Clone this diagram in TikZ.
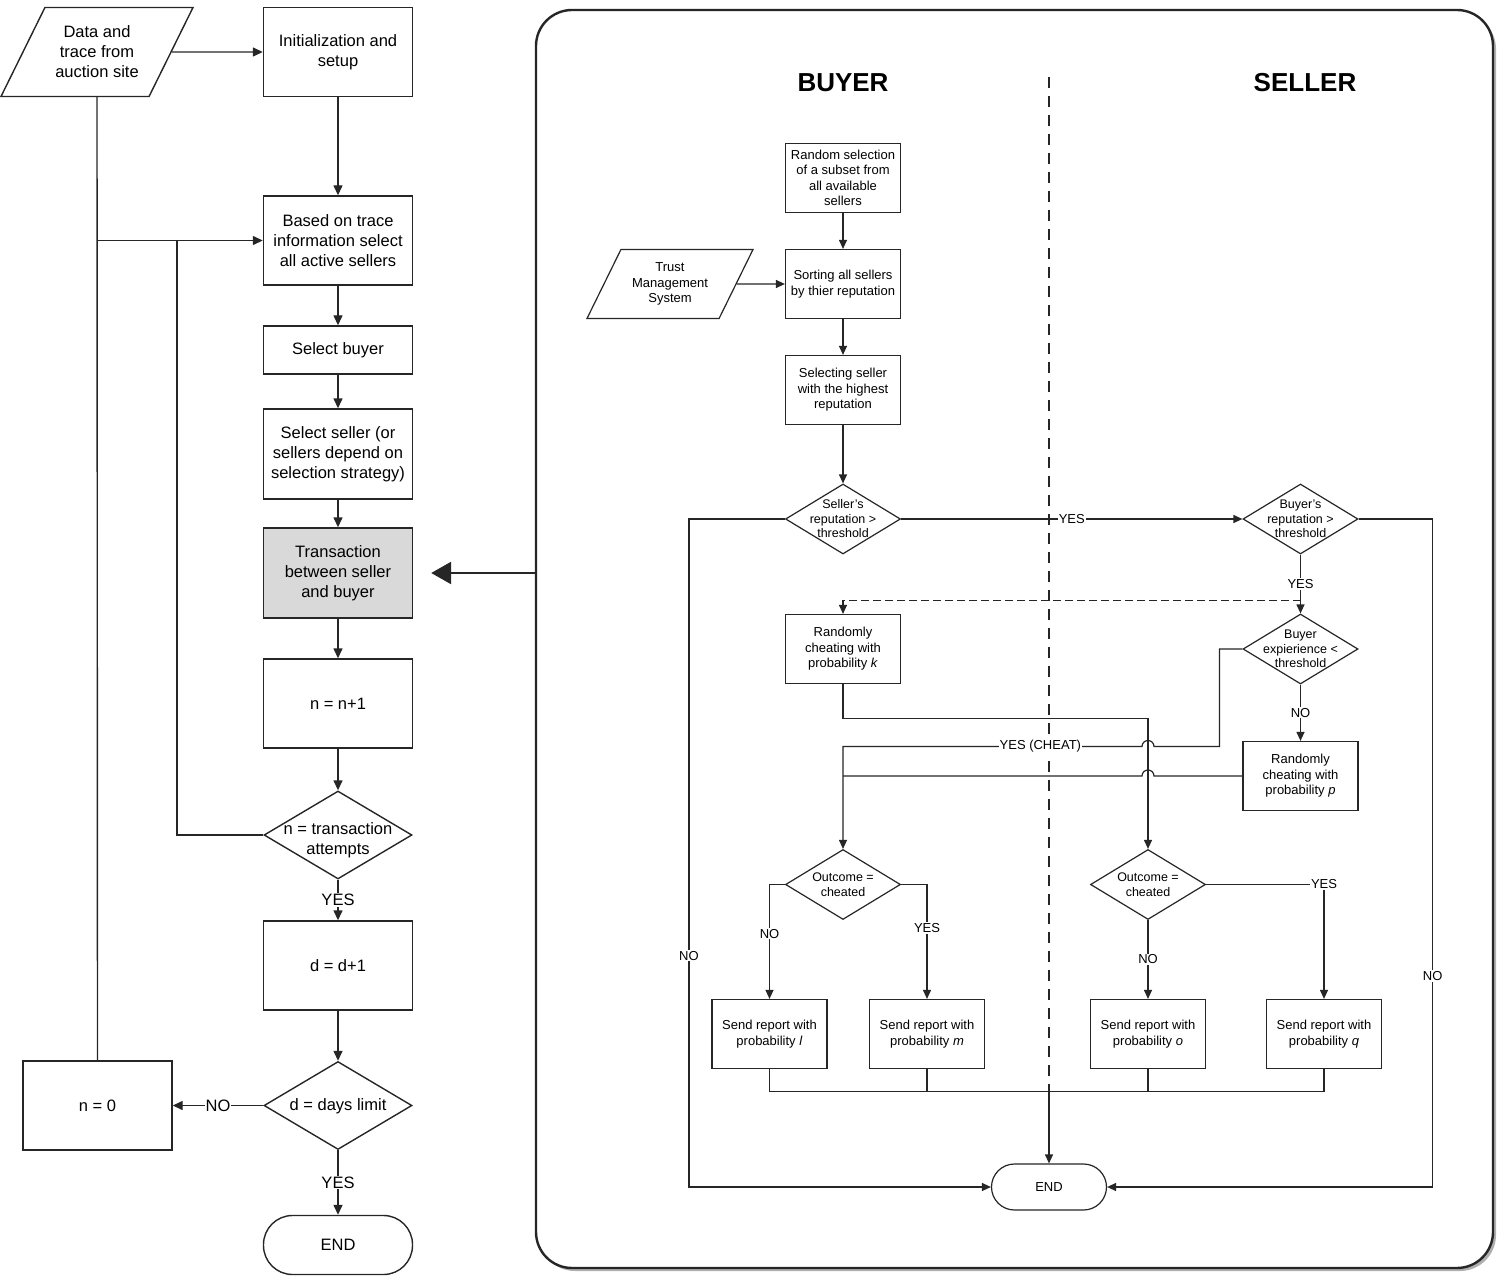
\documentclass[tikz,border=0pt]{standalone}
\usepackage{fontspec}
\setmainfont{Liberation Sans}
\usepackage{tikz}
\usetikzlibrary{arrows.meta,positioning,calc,shapes.geometric,shadows}
\definecolor{flowline}{RGB}{38,38,38}
\definecolor{transbg}{RGB}{217,217,217}
\definecolor{shadowgray}{RGB}{175,175,175}
\newcommand{\leftfont}{\fontsize{16.5}{20}\selectfont}
\newcommand{\panelfont}{\fontsize{13}{15.5}\selectfont}
\newcommand{\diamfont}{\fontsize{12.5}{14.5}\selectfont}
\newcommand{\titlefont}{\fontsize{26}{30}\selectfont\bfseries}
\tikzset{
  box/.style={draw=flowline, line width=1.4pt, align=center, inner sep=2pt,
    minimum width=149pt, minimum height=89pt, font=\leftfont},
  pbox/.style={draw=flowline, line width=1.2pt, align=center, inner sep=2pt,
    minimum width=115pt, minimum height=69pt, font=\panelfont},
  iobox/.style={trapezium, trapezium left angle=63.7, trapezium right angle=116.3,
    trapezium stretches body, draw=flowline, line width=1.4pt, align=center,
    inner xsep=2pt},
  decision/.style={diamond, draw=flowline, line width=1.4pt, inner sep=0pt,
    minimum width=148pt, minimum height=88pt},
  pdecision/.style={diamond, draw=flowline, line width=1.2pt, inner sep=0pt,
    minimum width=115pt, minimum height=70pt},
  dtext/.style={align=center, inner sep=0pt, font=\leftfont},
  pdtext/.style={align=center, inner sep=0pt, font=\diamfont},
  terminal/.style={draw=flowline, line width=1.4pt, font=\leftfont,
    minimum width=149pt, minimum height=59pt, rounded corners=29pt},
  pterminal/.style={draw=flowline, line width=1.2pt, font=\panelfont,
    minimum width=115pt, minimum height=46pt, rounded corners=23pt},
  panelbox/.style={draw=flowline, line width=2.4pt, rounded corners=36pt,
    minimum width=957pt, minimum height=1258pt, fill=white,
    drop shadow={shadow xshift=3pt, shadow yshift=-3pt, fill=shadowgray, opacity=1}},
  coltitle/.style={font=\titlefont},
  lbl/.style={fill=white, inner sep=1pt, font=\leftfont},
  plbl/.style={fill=white, inner sep=1pt, font=\panelfont},
  flow/.style={draw=flowline, line width=1.4pt},
  pflow/.style={draw=flowline, line width=1.2pt},
  arrow/.style={-{Triangle[length=10pt, width=9pt]}, draw=flowline, line width=1.4pt},
  parrow/.style={-{Triangle[length=9pt, width=8pt]}, draw=flowline, line width=1.2pt},
  dasharrow/.style={parrow, dash pattern=on 8pt off 4pt},
  bigarrow/.style={-{Triangle[length=20pt, width=22pt]}, draw=flowline, line width=2.6pt},
  sepline/.style={draw=flowline, line width=2.8pt, dash pattern=on 11pt off 8pt}
}

\begin{document}
\begin{tikzpicture}[x=1pt, y=-1pt]
  \useasboundingbox (0,0) rectangle (1500,1281);
  \node[iobox, inner ysep=18.4pt, minimum width=192pt, minimum height=89pt, font=\leftfont]
    (data) at (97,52) {Data and\\trace from\\auction site};
  \node[box] (init) at (338,52) {Initialization and\\setup};
  \node[box] (active) at (338,240.5) {Based on trace\\information select\\all active sellers};
  \node[box, minimum height=48pt] (buyer) at (338,350) {Select buyer};
  \node[box, minimum height=90pt] (seller) at (338,454)
    {Select seller (or\\sellers depend on\\selection strategy)};
  \node[box, fill=transbg, minimum height=90pt] (trans) at (338,573)
    {Transaction\\between seller\\and buyer};
  \node[box] (ninc) at (338,703.5) {n = n+1};
  \node[decision, label={[dtext, yshift=-5pt]center:n = transaction\\attempts}] (ntest)
    at (338,835) {};
  \node[box] (dinc) at (338,965.5) {d = d+1};
  \node[decision, label={[dtext, yshift=-1pt]center:d = days limit}] (dtest) at (338,1105.5) {};
  \node[terminal] (endl) at (338,1245) {END};
  \node[box] (nzero) at (97.5,1105.5) {n = 0};
  \coordinate (loop) at (177,240.5);

  \draw[arrow] (data.east) -- (init.west);
  \draw[arrow] (init) -- (active);
  \draw[flow] (data.south) -- (nzero.north);
  \draw[arrow] (data.south |- active.west) -- (active.west);
  \draw[flow] (ntest.west) -| (loop);
  \draw[arrow] (active) -- (buyer);
  \draw[arrow] (buyer) -- (seller);
  \draw[arrow] (seller) -- (trans);
  \draw[arrow] (trans) -- (ninc);
  \draw[arrow] (ninc) -- (ntest);
  \draw[arrow] (ntest) -- node[lbl]{YES} (dinc);
  \draw[arrow] (dinc) -- (dtest);
  \draw[arrow] (dtest.west) -- node[lbl]{NO} (nzero.east);
  \draw[arrow] (dtest) -- node[lbl]{YES} (endl);

  \node[panelbox] (panel) at (1014.5,639) {};
  \draw[bigarrow, shorten >=18pt] (trans.east -| panel.west) -- (trans.east);
  \node[coltitle] (buyertitle) at (843,83) {BUYER};
  \node[coltitle] (sellertitle) at (1305,83) {SELLER};
  \coordinate (septop) at (1049,77);
  \coordinate (merge) at (1049,1091.5);
  \draw[sepline] (septop) -- (merge);

  \node[pbox] (rand) at (843,178) {Random selection\\of a subset from\\all available\\sellers};
  \node[pbox] (sort) at (843,284) {Sorting all sellers\\by thier reputation};
  \node[iobox, line width=1.2pt, inner ysep=13pt, minimum width=166pt, minimum height=69pt,
    font=\panelfont] (tms) at (670,284) {Trust\\Management\\System};
  \node[pbox] (pick) at (843,390) {Selecting seller\\with the highest\\reputation};
  \node[pdecision, label={[pdtext]center:Seller’s\\reputation >\\threshold}] (srep) at (843,519) {};
  \node[pdecision, label={[pdtext]center:Buyer’s\\reputation >\\threshold}] (brep) at (1300.5,519) {};
  \node[pbox] (cheatk) at (843,649) {Randomly\\cheating with\\probability \textit{k}};
  \node[pdecision, label={[pdtext]center:Buyer\\expierience <\\threshold}] (bexp) at (1300.5,649) {};
  \node[pbox] (cheatp) at (1300.5,776) {Randomly\\cheating with\\probability \textit{p}};
  \node[pdecision, label={[pdtext]center:Outcome =\\cheated}] (outb) at (843,884.5) {};
  \node[pdecision, label={[pdtext]center:Outcome =\\cheated}] (outs) at (1148,884.5) {};
  \node[pbox] (repl) at (769.5,1034) {Send report with\\probability \textit{l}};
  \node[pbox] (repm) at (927,1034) {Send report with\\probability \textit{m}};
  \node[pbox] (repo) at (1148,1034) {Send report with\\probability \textit{o}};
  \node[pbox] (repq) at (1324,1034) {Send report with\\probability \textit{q}};
  \node[pterminal] (endr) at (1049,1187) {END};
  \coordinate (dsplit) at (1300.5,600.5);
  \coordinate (hopa) at (1154,746.5);
  \coordinate (hopb) at (1154,776);

  \draw[parrow] (rand) -- (sort);
  \draw[parrow] (tms.east) -- (sort.west);
  \draw[parrow] (sort) -- (pick);
  \draw[parrow] (pick) -- (srep);
  \draw[parrow] (srep.east) -- node[plbl]{YES} (brep.west);
  \draw[parrow] (srep.west) -- ++(-96,0) |- node[plbl, pos=0.327]{NO} (endr.west);
  \draw[parrow] (brep.east) -- ++(74,0) |- node[plbl, pos=0.342]{NO} (endr.east);
  \draw[parrow] (brep) -- node[plbl]{YES} (bexp);
  \draw[dasharrow] (dsplit) -| (cheatk.north);
  \draw[parrow] (bexp) -- node[plbl]{NO} (cheatp);
  \draw[parrow] (bexp.west) -- ++(-23,0) |- (hopa)
    arc[start angle=0, end angle=180, radius=6pt]
    -- node[plbl, pos=0.34]{YES (CHEAT)} (outb.north |- hopa) -- (outb.north);
  \draw[pflow] (cheatp.west) -- (hopb) arc[start angle=0, end angle=180, radius=6pt]
    -- (outb.north |- hopb);
  \draw[parrow] (cheatk.south) -- ++(0,34) -| (outs.north);
  \draw[parrow] (outb.west) -| node[plbl, pos=0.715]{NO} (repl.north);
  \draw[parrow] (outb.east) -| node[plbl, pos=0.69]{YES} (repm.north);
  \draw[parrow] (outs) -- node[plbl]{NO} (repo);
  \draw[parrow] (outs.east) -| node[plbl]{YES} (repq.north);
  \draw[pflow] (repl.south) |- (repq.south |- merge) -- (repq.south);
  \draw[pflow] (repm.south) -- (repm.south |- merge);
  \draw[pflow] (repo.south) -- (repo.south |- merge);
  \draw[parrow] (merge) -- (endr.north);
\end{tikzpicture}
\end{document}
